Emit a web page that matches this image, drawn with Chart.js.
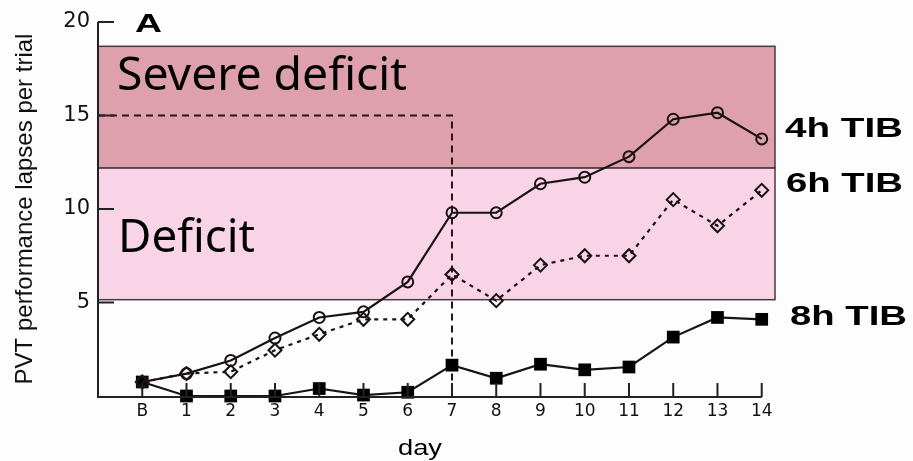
<!DOCTYPE html>
<html>
<head>
<meta charset="utf-8">
<script src="https://cdn.jsdelivr.net/npm/chart.js@4.4.1/dist/chart.umd.min.js"></script>
<style>
  html, body { margin: 0; padding: 0; background: #fdfdfd; }
  #wrap { width: 913px; height: 461px; position: relative; }
</style>
</head>
<body>
<div id="wrap"><canvas id="c" width="913" height="461"></canvas></div>
<script>
// ---- data ----
const categories = ['B','1','2','3','4','5','6','7','8','9','10','11','12','13','14'];
const tib4 = [0.75, 1.2, 1.9, 3.1, 4.2, 4.5, 6.1, 9.8, 9.8, 11.35, 11.7, 12.8, 14.8, 15.15, 13.75];
const tib6 = [0.75, 1.2, 1.3, 2.45, 3.3, 4.1, 4.1, 6.5, 5.1, 7.0, 7.5, 7.5, 10.5, 9.1, 11.0];
const tib8 = [0.75, 0, 0, 0, 0.4, 0.05, 0.2, 1.65, 0.95, 1.7, 1.4, 1.55, 3.15, 4.2, 4.1];
const seriesNames = ['4h TIB', '6h TIB', '8h TIB'];
const yTickValues = [5, 10, 15, 20];
const severeBand = [12.2, 18.7];
const deficitBand = [5.15, 12.2];
const refLevel = 15;
const refDay = 7;

const INK = '#1a1212';
const toPts = arr => arr.map((v, i) => ({ x: i, y: v }));

const overlay = {
  id: 'overlay',
  beforeDatasetsDraw(chart) {
    const ctx = chart.ctx, xs = chart.scales.x, ys = chart.scales.y;
    const x0 = xs.getPixelForValue(xs.min), x1 = xs.getPixelForValue(xs.max);
    ctx.save();
    const band = (b, fill) => {
      const yTop = ys.getPixelForValue(b[1]), yBot = ys.getPixelForValue(b[0]);
      ctx.fillStyle = fill;
      ctx.fillRect(x0, yTop, x1 - x0, yBot - yTop);
      ctx.strokeStyle = '#4a3a3e';
      ctx.lineWidth = 1.5;
      ctx.strokeRect(x0, yTop, x1 - x0, yBot - yTop);
    };
    band(deficitBand, '#f9d4e7');
    band(severeBand, '#dda0ac');
    ctx.strokeStyle = '#2a1414';
    ctx.lineWidth = 2;
    ctx.setLineDash([7, 5]);
    ctx.beginPath();
    ctx.moveTo(x0, ys.getPixelForValue(refLevel));
    ctx.lineTo(xs.getPixelForValue(refDay), ys.getPixelForValue(refLevel));
    ctx.lineTo(xs.getPixelForValue(refDay), ys.getPixelForValue(0));
    ctx.stroke();
    ctx.restore();
  },
  afterDatasetsDraw(chart) {
    const ctx = chart.ctx, xs = chart.scales.x, ys = chart.scales.y;
    const xl = xs.getPixelForValue(xs.min);
    const yb = ys.getPixelForValue(0) + 1;
    ctx.save();
    ctx.strokeStyle = '#222';
    ctx.lineWidth = 2;
    ctx.setLineDash([]);
    ctx.beginPath();
    ctx.moveTo(xl, ys.getPixelForValue(ys.max));
    ctx.lineTo(xl, yb);
    ctx.lineTo(xs.getPixelForValue(categories.length - 1), yb);
    yTickValues.forEach(v => {
      const y = ys.getPixelForValue(v);
      ctx.moveTo(xl, y); ctx.lineTo(xl + 16, y);
    });
    categories.forEach((c, i) => {
      const x = xs.getPixelForValue(i);
      ctx.moveTo(x, yb); ctx.lineTo(x, yb - 14);
    });
    ctx.stroke();
    ctx.restore();
  },
  afterDraw(chart) {
    const ctx = chart.ctx;
    const fit = (text, x, y, font, w) => {
      ctx.save();
      ctx.font = font;
      ctx.textBaseline = 'alphabetic';
      ctx.textAlign = 'left';
      const m = ctx.measureText(text).width;
      ctx.translate(x, y);
      ctx.scale(w / m, 1);
      ctx.fillStyle = '#000';
      ctx.fillText(text, 0, 0);
      ctx.restore();
    };
    fit('Severe deficit', 117, 90, '45px "Noto Sans"', 290);
    fit('Deficit', 118, 252, '45px "Noto Sans"', 137);
    fit('A', 135, 32, 'bold 26px "Liberation Sans"', 27);
    fit(seriesNames[0], 785, 137, 'bold 27px "Liberation Sans"', 118);
    fit(seriesNames[1], 786, 192, 'bold 27px "Liberation Sans"', 117);
    fit(seriesNames[2], 790, 325, 'bold 27px "Liberation Sans"', 117);
    fit('day', 398, 455, '22px "Liberation Sans"', 44);
  }
};

new Chart(document.getElementById('c'), {
  type: 'line',
  data: {
    datasets: [
      {
        label: seriesNames[0], data: toPts(tib4),
        borderColor: INK, borderWidth: 2.2, backgroundColor: 'rgba(0,0,0,0)',
        pointStyle: 'circle', pointRadius: 5.5, pointBorderWidth: 2,
        pointBorderColor: INK, pointBackgroundColor: 'rgba(0,0,0,0)', clip: false
      },
      {
        label: seriesNames[1], data: toPts(tib6),
        borderColor: INK, borderWidth: 2.2, borderDash: [4, 5], backgroundColor: 'rgba(0,0,0,0)',
        pointStyle: 'rectRot', pointRadius: 6.5, pointBorderWidth: 2,
        pointBorderColor: INK, pointBackgroundColor: 'rgba(0,0,0,0)', clip: false
      },
      {
        label: seriesNames[2], data: toPts(tib8),
        borderColor: INK, borderWidth: 2.2, backgroundColor: INK,
        pointStyle: 'rect', pointRadius: 9, pointBorderWidth: 0,
        pointBackgroundColor: '#000', clip: false
      }
    ]
  },
  options: {
    responsive: false,
    animation: false,
    devicePixelRatio: 1,
    layout: { padding: { left: 0, top: 22, right: 138, bottom: 0 } },
    plugins: { legend: { display: false }, tooltip: { enabled: false } },
    scales: {
      x: {
        type: 'linear', min: -1, max: 14.3,
        afterBuildTicks: s => { s.ticks = categories.map((c, i) => ({ value: i })); },
        afterFit: s => { s.height = 65; },
        ticks: {
          callback: v => categories[v],
          color: '#111', font: { family: 'DejaVu Sans', size: 17 }, padding: 5,
          maxRotation: 0, autoSkip: false
        },
        grid: { display: false, drawTicks: false },
        border: { display: false }
      },
      y: {
        min: 0, max: 20,
        afterBuildTicks: s => { s.ticks = yTickValues.map(v => ({ value: v })); },
        afterFit: s => { s.width = 98; },
        ticks: {
          color: '#111', font: { family: 'DejaVu Sans', size: 21 }, padding: 8
        },
        grid: { display: false, drawTicks: false },
        border: { display: false },
        title: {
          display: true, text: 'PVT performance lapses per trial',
          color: '#111', font: { family: 'Liberation Sans', size: 24 },
          padding: { top: 11, bottom: 0 }
        }
      }
    }
  },
  plugins: [overlay]
});
</script>
</body>
</html>
